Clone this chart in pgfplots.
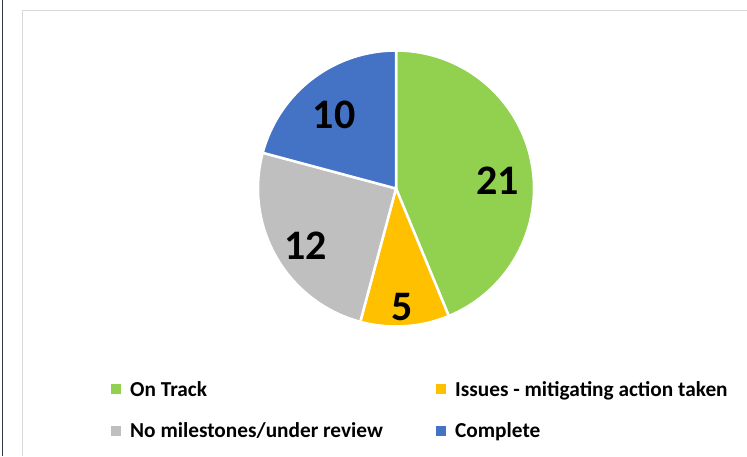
\documentclass[border=0pt]{standalone}
\usepackage{pgfplots}
\usepackage{pgfplotstable}
\pgfplotsset{compat=1.18}
\usepackage{fontspec}
\setmainfont{Carlito}
\definecolor{cGreen}{HTML}{92D050}
\definecolor{cYellow}{HTML}{FFC000}
\definecolor{cGray}{HTML}{BFBFBF}
\definecolor{cBlue}{HTML}{4472C4}
\definecolor{cFrame}{HTML}{D9D9D9}
\definecolor{cDark}{HTML}{2F3A4A}
\pgfplotstableread{
name value
OnTrack 21
Issues 5
NoMilestones 12
Complete 10
}\piedata
\pgfplotstablegetelem{0}{value}\of\piedata \edef\vA{\pgfplotsretval}
\pgfplotstablegetelem{1}{value}\of\piedata \edef\vB{\pgfplotsretval}
\pgfplotstablegetelem{2}{value}\of\piedata \edef\vC{\pgfplotsretval}
\pgfplotstablegetelem{3}{value}\of\piedata \edef\vD{\pgfplotsretval}
\pgfmathsetmacro\tot{\vA+\vB+\vC+\vD}
\pgfmathsetmacro\aA{90}
\pgfmathsetmacro\aB{\aA-360*\vA/\tot}
\pgfmathsetmacro\aC{\aB-360*\vB/\tot}
\pgfmathsetmacro\aD{\aC-360*\vC/\tot}
\pgfmathsetmacro\aE{\aD-360*\vD/\tot}
\def\cx{396}
\def\cy{188.5}
\def\R{138}
\newcommand\sq[1]{\fill[#1, draw=none] (0pt,-5pt) rectangle (9.5pt,5pt); \path[draw=none, fill=none] (0pt,0pt) -- (17pt,0pt);}
\begin{document}
\begin{tikzpicture}
\useasboundingbox (0,0) rectangle (747pt,456pt);
\begin{axis}[
  at={(0,0)}, anchor=south west,
  scale only axis, width=747pt, height=456pt,
  xmin=0, xmax=747, ymin=0, ymax=456, y dir=reverse,
  hide axis, clip=false,
  legend columns=2,
  legend style={draw=none, fill=none, inner sep=0pt, row sep=21pt,
    font=\fontsize{21.3}{23}\selectfont\bfseries,
    at={(axis cs:111,379)}, anchor=north west,
    cells={anchor=west}},
]
\addplot[fill=cGreen, draw=white, line width=2.5pt, line join=round, domain=\aB:\aA, samples=120,
  legend image code/.code={\sq{cGreen}}]
  ({\cx+\R*cos(x)},{\cy-\R*sin(x)}) -- (axis cs:\cx,\cy) -- cycle;
\addlegendentry{\makebox[304pt][l]{On Track}}
\addplot[fill=cYellow, draw=white, line width=2.5pt, line join=round, domain=\aC:\aB, samples=40,
  legend image code/.code={\sq{cYellow}}]
  ({\cx+\R*cos(x)},{\cy-\R*sin(x)}) -- (axis cs:\cx,\cy) -- cycle;
\addlegendentry{Issues - mitigating action taken}
\addplot[fill=cGray, draw=white, line width=2.5pt, line join=round, domain=\aD:\aC, samples=80,
  legend image code/.code={\sq{cGray}}]
  ({\cx+\R*cos(x)},{\cy-\R*sin(x)}) -- (axis cs:\cx,\cy) -- cycle;
\addlegendentry{\makebox[304pt][l]{No milestones/under review}}
\addplot[fill=cBlue, draw=white, line width=2.5pt, line join=round, domain=\aE:\aD, samples=70,
  legend image code/.code={\sq{cBlue}}]
  ({\cx+\R*cos(x)},{\cy-\R*sin(x)}) -- (axis cs:\cx,\cy) -- cycle;
\addlegendentry{Complete}
\node[font=\fontsize{42}{44}\selectfont\bfseries] at (axis cs:497.5,180.5) {\vA};
\node[font=\fontsize{42}{44}\selectfont\bfseries] at (axis cs:401.8,306.7) {\vB};
\node[font=\fontsize{42}{44}\selectfont\bfseries] at (axis cs:305.5,245.5) {\vC};
\node[font=\fontsize{42}{44}\selectfont\bfseries] at (axis cs:334,115.3) {\vD};
\draw[cDark, line width=1.4pt] (axis cs:2.7,0) -- (axis cs:2.7,456);
\draw[cFrame, line width=1.8pt] (axis cs:22.5,456) -- (axis cs:22.5,10.5) -- (axis cs:747,10.5);
\end{axis}
\end{tikzpicture}
\end{document}
